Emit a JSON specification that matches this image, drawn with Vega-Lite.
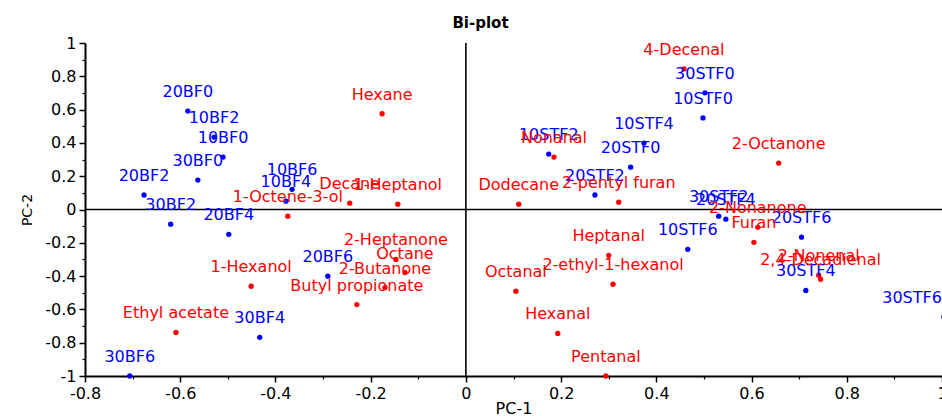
{
  "$schema": "https://vega.github.io/schema/vega-lite/v6.json",
  "width": 857,
  "height": 333,
  "autosize": {"type": "none"},
  "padding": {"left": 85, "top": 43, "right": 0, "bottom": 40},
  "background": "white",
  "title": {"text": "Bi-plot", "font": "DejaVu Sans", "fontSize": 15, "fontWeight": "bold", "color": "black", "offset": 4, "dx": -33, "anchor": "middle"},
  "config": {"view": {"stroke": null}, "font": "DejaVu Sans"},
  "datasets": {
    "zero": [{"v": 0}],
    "points": [
      {"name": "20BF0", "pc1": -0.584, "pc2": 0.591, "kind": "Sample"},
      {"name": "10BF2", "pc1": -0.529, "pc2": 0.435, "kind": "Sample"},
      {"name": "10BF0", "pc1": -0.510, "pc2": 0.315, "kind": "Sample"},
      {"name": "30BF0", "pc1": -0.563, "pc2": 0.177, "kind": "Sample"},
      {"name": "20BF2", "pc1": -0.676, "pc2": 0.087, "kind": "Sample"},
      {"name": "10BF6", "pc1": -0.365, "pc2": 0.121, "kind": "Sample"},
      {"name": "10BF4", "pc1": -0.378, "pc2": 0.050, "kind": "Sample"},
      {"name": "30BF2", "pc1": -0.620, "pc2": -0.088, "kind": "Sample"},
      {"name": "20BF4", "pc1": -0.498, "pc2": -0.149, "kind": "Sample"},
      {"name": "20BF6", "pc1": -0.290, "pc2": -0.401, "kind": "Sample"},
      {"name": "30BF4", "pc1": -0.433, "pc2": -0.768, "kind": "Sample"},
      {"name": "30BF6", "pc1": -0.706, "pc2": -1.0, "kind": "Sample"},
      {"name": "30STF0", "pc1": 0.502, "pc2": 0.701, "kind": "Sample"},
      {"name": "10STF0", "pc1": 0.498, "pc2": 0.550, "kind": "Sample"},
      {"name": "10STF4", "pc1": 0.374, "pc2": 0.399, "kind": "Sample"},
      {"name": "20STF0", "pc1": 0.346, "pc2": 0.254, "kind": "Sample"},
      {"name": "10STF2", "pc1": 0.174, "pc2": 0.333, "kind": "Sample"},
      {"name": "20STF2", "pc1": 0.271, "pc2": 0.087, "kind": "Sample"},
      {"name": "30STF2", "pc1": 0.531, "pc2": -0.040, "kind": "Sample"},
      {"name": "20STF4", "pc1": 0.546, "pc2": -0.058, "kind": "Sample"},
      {"name": "20STF6", "pc1": 0.705, "pc2": -0.166, "kind": "Sample"},
      {"name": "10STF6", "pc1": 0.466, "pc2": -0.239, "kind": "Sample"},
      {"name": "30STF4", "pc1": 0.714, "pc2": -0.486, "kind": "Sample"},
      {"name": "30STF6", "pc1": 1.004, "pc2": -0.645, "kind": "Sample"},
      {"name": "Hexane", "pc1": -0.176, "pc2": 0.575, "kind": "Variable"},
      {"name": "Decane", "pc1": -0.244, "pc2": 0.038, "kind": "Variable"},
      {"name": "1-Heptanol", "pc1": -0.143, "pc2": 0.032, "kind": "Variable"},
      {"name": "1-Octene-3-ol", "pc1": -0.374, "pc2": -0.040, "kind": "Variable"},
      {"name": "2-Heptanone", "pc1": -0.147, "pc2": -0.300, "kind": "Variable"},
      {"name": "Octane", "pc1": -0.128, "pc2": -0.379, "kind": "Variable"},
      {"name": "2-Butanone", "pc1": -0.170, "pc2": -0.469, "kind": "Variable"},
      {"name": "Butyl propionate", "pc1": -0.229, "pc2": -0.571, "kind": "Variable"},
      {"name": "1-Hexanol", "pc1": -0.451, "pc2": -0.461, "kind": "Variable"},
      {"name": "Ethyl acetate", "pc1": -0.609, "pc2": -0.738, "kind": "Variable"},
      {"name": "4-Decenal", "pc1": 0.458, "pc2": 0.844, "kind": "Variable"},
      {"name": "Nonanal", "pc1": 0.185, "pc2": 0.315, "kind": "Variable"},
      {"name": "2-Octanone", "pc1": 0.657, "pc2": 0.279, "kind": "Variable"},
      {"name": "Dodecane", "pc1": 0.111, "pc2": 0.032, "kind": "Variable"},
      {"name": "2-pentyl furan", "pc1": 0.321, "pc2": 0.044, "kind": "Variable"},
      {"name": "2-Nonanone", "pc1": 0.613, "pc2": -0.107, "kind": "Variable"},
      {"name": "Furan", "pc1": 0.605, "pc2": -0.197, "kind": "Variable"},
      {"name": "Heptanal", "pc1": 0.300, "pc2": -0.275, "kind": "Variable"},
      {"name": "2-ethyl-1-hexanol", "pc1": 0.309, "pc2": -0.449, "kind": "Variable"},
      {"name": "Octanal", "pc1": 0.105, "pc2": -0.491, "kind": "Variable"},
      {"name": "Hexanal", "pc1": 0.193, "pc2": -0.744, "kind": "Variable"},
      {"name": "Pentanal", "pc1": 0.294, "pc2": -1.0, "kind": "Variable"},
      {"name": "2-Nonenal", "pc1": 0.741, "pc2": -0.395, "kind": "Variable"},
      {"name": "2,4-Decadienal", "pc1": 0.745, "pc2": -0.419, "kind": "Variable"}
    ]
  },
  "layer": [
    {
      "data": {"name": "zero"},
      "mark": {"type": "rule", "color": "black", "strokeWidth": 1.6},
      "encoding": {
        "x": {
          "field": "v", "type": "quantitative",
          "scale": {"domain": [-0.8, 1.0], "nice": false, "zero": false},
          "axis": {"orient": "bottom", "values": [-0.7, -0.5, -0.3, -0.1, 0.1, 0.3, 0.5, 0.7, 0.9], "labels": false, "domain": false, "grid": false, "ticks": true, "tickSize": 3, "tickColor": "black", "tickWidth": 1.2, "title": null}
        }
      }
    },
    {
      "data": {"name": "zero"},
      "mark": {"type": "rule", "color": "black", "strokeWidth": 1.6},
      "encoding": {
        "y": {
          "field": "v", "type": "quantitative",
          "scale": {"domain": [-1, 1], "nice": false, "zero": false},
          "axis": {"orient": "left", "values": [-0.9, -0.7, -0.5, -0.3, -0.1, 0.1, 0.3, 0.5, 0.7, 0.9], "labels": false, "domain": false, "grid": false, "ticks": true, "tickSize": 3, "tickColor": "black", "tickWidth": 1.2, "title": null}
        }
      }
    },
    {
      "data": {"name": "points"},
      "mark": {"type": "circle", "size": 28, "opacity": 1},
      "encoding": {
        "x": {
          "field": "pc1", "type": "quantitative",
          "scale": {"domain": [-0.8, 1.0], "nice": false, "zero": false},
          "axis": {"orient": "bottom", "values": [-0.8, -0.6, -0.4, -0.2, 0, 0.2, 0.4, 0.6, 0.8, 1], "labelExpr": "'' + datum.value", "grid": false, "domainColor": "black", "domainWidth": 2, "tickColor": "black", "tickWidth": 1.5, "tickSize": 6, "labelFont": "DejaVu Sans", "labelFontSize": 16, "labelColor": "black", "labelPadding": 3, "labelFlush": false, "labelOverlap": false, "title": "PC-1", "titleFont": "DejaVu Sans", "titleFontSize": 16, "titleFontWeight": "normal", "titleColor": "black", "titleY": 37, "titleBaseline": "alphabetic"}
        },
        "y": {
          "field": "pc2", "type": "quantitative",
          "scale": {"domain": [-1, 1], "nice": false, "zero": false},
          "axis": {"orient": "left", "values": [-1, -0.8, -0.6, -0.4, -0.2, 0, 0.2, 0.4, 0.6, 0.8, 1], "labelExpr": "'' + datum.value", "grid": false, "domainColor": "black", "domainWidth": 2, "tickColor": "black", "tickWidth": 1.5, "tickSize": 6, "labelFont": "DejaVu Sans", "labelFontSize": 16, "labelColor": "black", "labelPadding": 3, "labelFlush": false, "labelOverlap": false, "title": "PC-2", "titleFont": "DejaVu Sans", "titleFontSize": 14, "titleFontWeight": "normal", "titleColor": "black", "titlePadding": 10}
        },
        "color": {"field": "kind", "type": "nominal", "scale": {"domain": ["Sample", "Variable"], "range": ["#0000ff", "#ff0000"]}, "legend": null}
      }
    },
    {
      "data": {"name": "points"},
      "transform": [{"filter": "datum.pc1 < 0.95"}],
      "mark": {"type": "text", "dy": -19, "fontSize": 16, "font": "DejaVu Sans", "baseline": "middle", "align": "center"},
      "encoding": {
        "x": {"field": "pc1", "type": "quantitative", "scale": {"domain": [-0.8, 1.0], "nice": false, "zero": false}, "axis": null},
        "y": {"field": "pc2", "type": "quantitative", "scale": {"domain": [-1, 1], "nice": false, "zero": false}, "axis": null},
        "text": {"field": "name", "type": "nominal"},
        "color": {"field": "kind", "type": "nominal", "scale": {"domain": ["Sample", "Variable"], "range": ["#0000ff", "#ff0000"]}, "legend": null}
      }
    },
    {
      "data": {"name": "points"},
      "transform": [{"filter": "datum.pc1 >= 0.95"}],
      "mark": {"type": "text", "dy": -19, "dx": -2, "fontSize": 16, "font": "DejaVu Sans", "baseline": "middle", "align": "right"},
      "encoding": {
        "x": {"field": "pc1", "type": "quantitative", "scale": {"domain": [-0.8, 1.0], "nice": false, "zero": false}, "axis": null},
        "y": {"field": "pc2", "type": "quantitative", "scale": {"domain": [-1, 1], "nice": false, "zero": false}, "axis": null},
        "text": {"field": "name", "type": "nominal"},
        "color": {"field": "kind", "type": "nominal", "scale": {"domain": ["Sample", "Variable"], "range": ["#0000ff", "#ff0000"]}, "legend": null}
      }
    }
  ],
  "resolve": {"axis": {"x": "independent", "y": "independent"}}
}
